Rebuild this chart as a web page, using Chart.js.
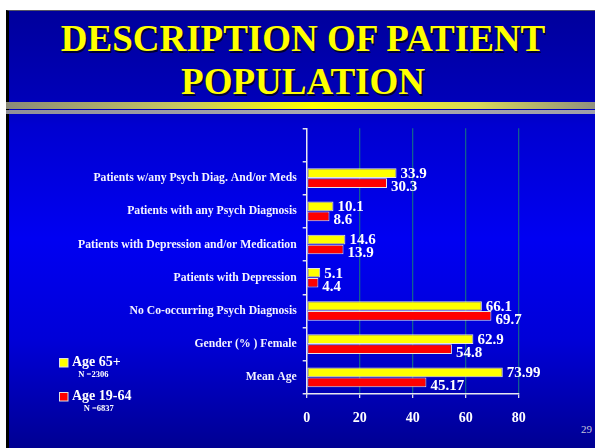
<!DOCTYPE html>
<html>
<head>
<meta charset="utf-8">
<script src="https://cdn.jsdelivr.net/npm/chart.js@4"></script>
<style>
  html, body { margin: 0; padding: 0; background: #ffffff; }
  body { width: 595px; height: 448px; position: relative; overflow: hidden; }
  #slide {
    position: absolute; left: 6px; top: 10px; width: 589px; height: 438px;
    background: linear-gradient(to bottom, #00009c 0%, #0000b8 20%, #0000d0 26%, #0000f2 52%, #0000d8 75%, #000092 100%);
    border-left: 3px solid #000000; border-top: 1px solid #555566;
    box-sizing: border-box;
  }
  .title {
    position: absolute; left: 0; width: 606px; text-align: center;
    font-family: "Liberation Serif", "Times New Roman", serif; font-weight: bold;
    font-size: 37px; color: #ffff00; line-height: 1;
    text-shadow: 1.5px 1.5px 0 #000033;
    white-space: nowrap;
  }
  #bar1 {
    position: absolute; left: 6px; top: 102px; width: 589px; height: 7px;
    background: linear-gradient(to right, #8a8a7a 0%, #c8c860 30%, #ffff00 52%, #d8d858 80%, #909080 100%);
  }
  #bar2 {
    position: absolute; left: 6px; top: 110px; width: 589px; height: 4px;
    background: linear-gradient(to right, #909098, #a8a8b0 50%, #a0a0a8);
  }
  #pageno {
    position: absolute; left: 581px; top: 423px;
    font-family: "Liberation Serif", serif; font-size: 11px; color: #c8c8dc;
  }
  #chart { position: absolute; left: 0; top: 0; }
</style>
</head>
<body>
<div id="slide"></div>
<div id="bar1"></div>
<div id="bar2"></div>
<div class="title" style="top:20px;">DESCRIPTION OF PATIENT</div>
<div class="title" style="top:63px;">POPULATION</div>
<div id="pageno">29</div>
<canvas id="chart" width="595" height="448"></canvas>
<script>
// Categories (top row left blank as spacing above the first group)
const categories = [
  '',
  'Patients w/any Psych Diag. And/or Meds',
  'Patients with any Psych Diagnosis',
  'Patients with Depression and/or Medication',
  'Patients with Depression',
  'No Co-occurring Psych Diagnosis',
  'Gender (% ) Female',
  'Mean Age'
];
const seriesNames = ['Age 65+', 'Age 19-64'];
const seriesCounts = ['N =2306', 'N =6837'];
const age65Values = [null, 33.9, 10.1, 14.6, 5.1, 66.1, 62.9, 73.99];
const age1964Values = [null, 30.3, 8.6, 13.9, 4.4, 69.7, 54.8, 45.17];
const xTicks = [0, 20, 40, 60, 80];

const SERIF = '"Liberation Serif", "Times New Roman", serif';
const seriesColors = ['#ffff00', '#ff0000'];

// Value labels at the end of each bar
const valueLabels = {
  id: 'valueLabels',
  afterDatasetsDraw(chart) {
    const ctx = chart.ctx;
    ctx.save();
    ctx.font = 'bold 15px ' + SERIF;
    ctx.fillStyle = '#ffffff';
    ctx.textAlign = 'left';
    ctx.textBaseline = 'middle';
    chart.data.datasets.forEach((ds, di) => {
      const meta = chart.getDatasetMeta(di);
      meta.data.forEach((el, i) => {
        const v = ds.data[i];
        if (v === null || v === undefined) return;
        ctx.fillText(String(v), el.x + 4, el.y + (di === 0 ? 1 : 4));
      });
    });
    ctx.restore();
  }
};

// Legend box at the lower left with sample sizes under each series
const sideLegend = {
  id: 'sideLegend',
  afterDraw(chart) {
    const ctx = chart.ctx;
    ctx.save();
    const rows = [362.5, 396.5];
    chart.data.datasets.forEach((ds, di) => {
      const cy = rows[di];
      ctx.fillStyle = ds.backgroundColor;
      ctx.fillRect(59.5, cy - 4, 8.5, 8.5);
      ctx.strokeStyle = '#e0e0e0';
      ctx.lineWidth = 1;
      ctx.strokeRect(59.5, cy - 4, 8.5, 8.5);
      ctx.fillStyle = '#ffffff';
      ctx.font = 'bold 14px ' + SERIF;
      ctx.textAlign = 'left';
      ctx.textBaseline = 'middle';
      ctx.fillText(ds.label, 72, cy);
      const w = ctx.measureText(ds.label).width;
      ctx.font = 'bold 8.5px ' + SERIF;
      ctx.textAlign = 'center';
      ctx.fillText(seriesCounts[di], 72 + w / 2 - 3, cy + 12.5);
    });
    ctx.restore();
  }
};

new Chart(document.getElementById('chart'), {
  type: 'bar',
  data: {
    labels: categories,
    datasets: [
      { label: seriesNames[0], data: age65Values, backgroundColor: seriesColors[0],
        borderColor: '#e4e4e4', borderWidth: 1, borderSkipped: false,
        categoryPercentage: 0.6, barPercentage: 0.97 },
      { label: seriesNames[1], data: age1964Values, backgroundColor: seriesColors[1],
        borderColor: '#e4e4e4', borderWidth: 1, borderSkipped: false,
        categoryPercentage: 0.6, barPercentage: 0.97 }
    ]
  },
  options: {
    indexAxis: 'y',
    responsive: false,
    animation: false,
    devicePixelRatio: 1,
    layout: { padding: { left: 0, right: 76.3, top: 128.3, bottom: 24 } },
    plugins: { legend: { display: false }, tooltip: { enabled: false } },
    scales: {
      x: {
        type: 'linear', min: 0, max: 80,
        afterBuildTicks(scale) { scale.ticks = xTicks.map(v => ({ value: v })); },
        afterFit(scale) { scale.height = 30; },
        grid: {
          color: ctx => (ctx.tick && ctx.tick.value === 0) ? 'rgba(0,0,0,0)' : '#12608e',
          tickColor: '#dcdce8', tickLength: 4, lineWidth: 1.3
        },
        border: { color: '#e8e8f0', width: 1.5 },
        ticks: { color: '#ffffff', font: { family: SERIF, size: 14, weight: 'bold' }, padding: 11.5 }
      },
      y: {
        type: 'category',
        afterFit(scale) { scale.width = 306.7; },
        grid: { drawOnChartArea: false, offset: true, tickColor: '#e0e0ec', tickLength: 4, lineWidth: 1.5 },
        border: { color: '#e8e8f0', width: 1.5 },
        ticks: { color: '#f4f4ff', font: { family: SERIF, size: 11.7, weight: 'bold' }, padding: 6, autoSkip: false }
      }
    }
  },
  plugins: [valueLabels, sideLegend]
});
</script>
</body>
</html>
